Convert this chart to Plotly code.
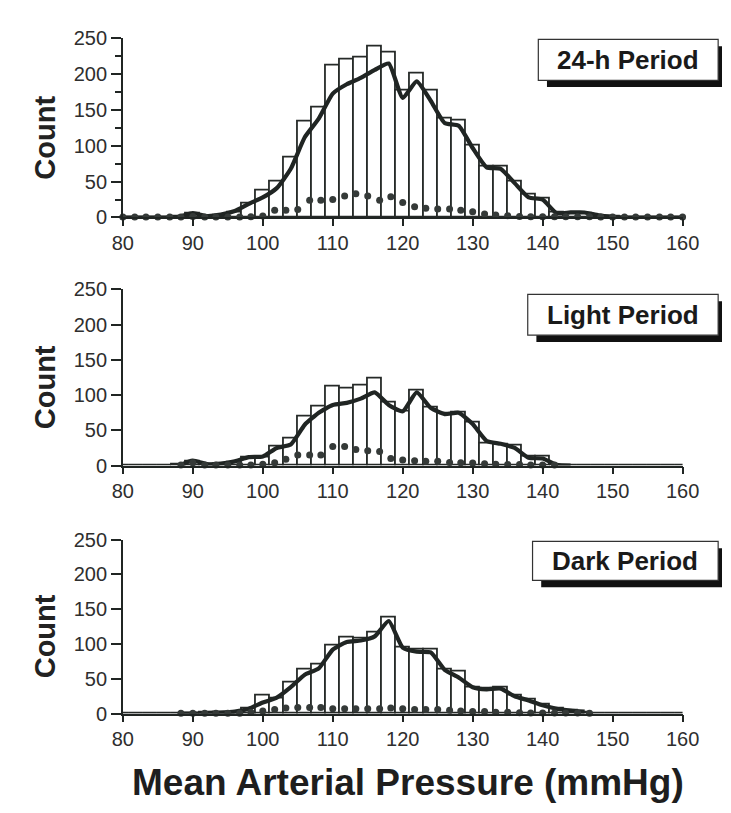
import plotly.graph_objects as go

# ---------------- data ----------------
BINS = [80, 82, 84, 86, 88, 90, 92, 94, 96, 98, 100, 102, 104, 106, 108, 110,
        112, 114, 116, 118, 120, 122, 124, 126, 128, 130, 132, 134, 136, 138,
        140, 142, 144, 146, 148, 150, 152, 154, 156, 158, 160]

H24_BARS = [0, 0, 0, 0, 1, 5, 2, 3, 7, 20, 38, 51, 84, 134, 154, 212,
            221, 223, 239, 231, 178, 201, 177, 138, 136, 101, 71, 71, 51, 32,
            26, 7, 5, 5, 2, 1, 0, 0, 0, 0, 0]
H24_CURVE = [0, 0, 0, 0, 1, 6, 2, 4, 9, 19, 28, 41, 68, 112, 138, 173,
             186, 195, 206, 215, 167, 190, 163, 132, 128, 97, 70, 68, 48, 28,
             25, 6, 7, 7, 3, 1, 0, 0, 0, 0, 0]

LIGHT_BARS = [0, 0, 0, 0, 1, 6, 2, 2, 5, 12, 12, 27, 38, 70, 84, 113,
              110, 114, 123, 90, 77, 107, 83, 74, 76, 61, 32, 30, 28, 13,
              13, 0, 0, 0, 0, 0, 0, 0, 0, 0, 0]
LIGHT_CURVE = [None, None, None, None, 0, 7, 2, 3, 6, 12, 13, 25, 30, 58, 75, 86,
               89, 95, 104, 86, 77, 104, 82, 73, 75, 59, 35, 31, 25, 11,
               10, 1, 0, None, None, None, None, None, None, None, None]

DARK_BARS = [0, 0, 0, 0, 0, 0, 1, 1, 2, 8, 26, 22, 45, 63, 70, 98,
             110, 108, 116, 138, 95, 92, 92, 63, 61, 38, 36, 38, 26, 20,
             13, 7, 4, 2, 0, 0, 0, 0, 0, 0, 0]
DARK_CURVE = [None, None, None, None, 0, 0, 1, 1.5, 3, 7, 16, 23, 38, 56, 65, 92,
              103, 105, 111, 133, 95, 89, 88, 63, 52, 38, 35, 36, 25, 19,
              12, 7, 4.5, 3, None, None, None, None, None, None, None]

DOT_X = [80.0, 81.7, 83.3, 85.0, 86.7, 88.3, 90.0, 91.7, 93.3, 95.0, 96.7,
         98.3, 100.0, 101.7, 103.3, 105.0, 106.7, 108.3, 110.0, 111.7, 113.3,
         115.0, 116.7, 118.3, 120.0, 121.7, 123.3, 125.0, 126.7, 128.3, 130.0,
         131.7, 133.3, 135.0, 136.7, 138.3, 140.0, 141.7, 143.3, 145.0, 146.7,
         148.3, 150.0, 151.7, 153.3, 155.0, 156.7, 158.3, 160.0]
H24_DOTS = [0.5, 0.5, 0.5, 0.5, 0.5, 0.5, 1.5, 0.5, 0.5, 0.5, 0.5,
            1, 2, 10, 10, 11, 24, 24, 25, 30, 33,
            30, 24, 29, 21, 15, 13, 12, 12, 10, 8,
            5, 3.5, 2.5, 1.5, 1, 1, 1, 1, 1, 1,
            0.5, 0.5, 0.5, 0.5, 0.5, 0.5, 0.5, 0.5]
LIGHT_DOTS = [None, None, None, None, None, 1, 4, 1, 1, 1, 1,
              1, 2, 4, 9, 15, 15, 15, 27, 27, 23,
              21, 20, 10, 8, 7, 6, 6, 4.5, 4, 3.5,
              2.5, 2, 1.5, 1.5, 1, 1, 1, None, None, None,
              None, None, None, None, None, None, None, None]
DARK_DOTS = [None, None, None, None, None, 0.5, 0.5, 0.5, 0.5, 0.5, 0.5,
             2, 4, 6, 8, 9, 9, 9, 7, 7, 7,
             7, 7, 8, 7, 6, 6, 6, 5, 4, 3,
             3, 2, 2, 1.5, 1, 1, 1, 1, 1, 0.5,
             None, None, None, None, None, None, None, None]

PANEL_TITLES = ["24-h Period", "Light Period", "Dark Period"]
X_TICKS = [80, 90, 100, 110, 120, 130, 140, 150, 160]
Y_TICKS = [0, 50, 100, 150, 200, 250]

# ---------------- styling / layout ----------------
W, H = 731, 813
INK = "#202523"
EDGE = "#262a28"
DOTC = "#353a38"
TXT = "#2e2e2e"
FONT = "Liberation Sans, Arial, sans-serif"


def px(x):
    return x / W


def py(y):
    return 1 - y / H


# plot areas in pixels (top, bottom)
PANELS_PX = [(20, 204), (278, 459), (535, 714)]
X_DOMAIN = [px(108), px(690)]

series = [
    (H24_BARS, H24_CURVE, H24_DOTS),
    (LIGHT_BARS, LIGHT_CURVE, LIGHT_DOTS),
    (DARK_BARS, DARK_CURVE, DARK_DOTS),
]

fig = go.Figure()
for i, (bars, curve, dots) in enumerate(series):
    xa = "x" if i == 0 else f"x{i + 1}"
    ya = "y" if i == 0 else f"y{i + 1}"
    fig.add_trace(go.Bar(
        x=BINS, y=bars, width=2, xaxis=xa, yaxis=ya,
        marker=dict(color="white", line=dict(color=EDGE, width=1.8)),
        showlegend=False, hoverinfo="skip"))
    fig.add_trace(go.Scatter(
        x=BINS, y=curve, mode="lines", xaxis=xa, yaxis=ya,
        line=dict(color=INK, width=4.2, shape="spline", smoothing=0.5),
        connectgaps=False, cliponaxis=False, showlegend=False,
        hoverinfo="skip"))
    fig.add_trace(go.Scatter(
        x=DOT_X, y=dots, mode="markers", xaxis=xa, yaxis=ya,
        marker=dict(color=DOTC, size=7), cliponaxis=False,
        showlegend=False, hoverinfo="skip"))

layout = dict(
    width=W, height=H,
    margin=dict(l=0, r=0, t=0, b=0),
    paper_bgcolor="white", plot_bgcolor="white",
    bargap=0, barmode="overlay",
    font=dict(family=FONT, color=TXT),
)

shapes = []
annotations = []
box_px = [(540, 21, 63), (529, 283, 325), (534, 537, 577)]
for i, (top, bot) in enumerate(PANELS_PX):
    sfx = "" if i == 0 else str(i + 1)
    yaxis = dict(
        domain=[py(bot), py(top)], range=[0, 250], tickvals=Y_TICKS,
        ticks="outside", ticklen=10, tickwidth=1.6, tickcolor=INK,
        showline=True, linecolor=INK, linewidth=1.6,
        showgrid=False, zeroline=False,
        tickfont=dict(size=20, color=TXT, family=FONT),
        anchor="x" + sfx, fixedrange=True)
    if i == 0:
        yaxis["minor"] = dict(dtick=25, ticks="outside", ticklen=6,
                              tickwidth=1.6, tickcolor=INK, showgrid=False)
    xaxis = dict(
        domain=X_DOMAIN, range=[80, 160], tickvals=X_TICKS,
        ticks="outside", ticklen=7, tickwidth=1.6, tickcolor=INK,
        showline=True, linecolor=INK, linewidth=1.6,
        showgrid=False, zeroline=False,
        tickfont=dict(size=20, color=TXT, family=FONT),
        anchor="y" + sfx, fixedrange=True)
    layout["yaxis" + sfx] = yaxis
    layout["xaxis" + sfx] = xaxis

    # "Count" label
    annotations.append(dict(
        text="<b>Count</b>", xref="paper", yref="paper",
        x=px(27), y=py((top + bot) / 2 + 10), textangle=-90,
        showarrow=False, font=dict(size=29, color="#222", family=FONT),
        xanchor="center", yanchor="middle"))

    # period box with drop shadow
    bx0, by0, by1 = box_px[i]
    bx1 = 727
    shapes.append(dict(type="rect", xref="paper", yref="paper",
                       x0=px(bx0 + 9), x1=px(W), y0=py(by1 + 7), y1=py(by0 + 7),
                       fillcolor="#111", line=dict(width=0), layer="above"))
    shapes.append(dict(type="rect", xref="paper", yref="paper",
                       x0=px(bx0), x1=px(bx1), y0=py(by1), y1=py(by0),
                       fillcolor="white", line=dict(color="#333", width=1.2),
                       layer="above"))
    annotations.append(dict(
        text="<b>" + PANEL_TITLES[i] + "</b>", xref="paper", yref="paper",
        x=px((bx0 + bx1) / 2), y=py((by0 + by1) / 2), showarrow=False,
        font=dict(size=26, color="#1a1a1a", family=FONT),
        xanchor="center", yanchor="middle"))

annotations.append(dict(
    text="<b>Mean Arterial Pressure (mmHg)</b>", xref="paper", yref="paper",
    x=px(405), y=py(785), showarrow=False,
    font=dict(size=37, color="#1e1e1e", family=FONT),
    xanchor="center", yanchor="middle"))

layout["shapes"] = shapes
layout["annotations"] = annotations
fig.update_layout(**layout)

fig.write_html("out.html")
